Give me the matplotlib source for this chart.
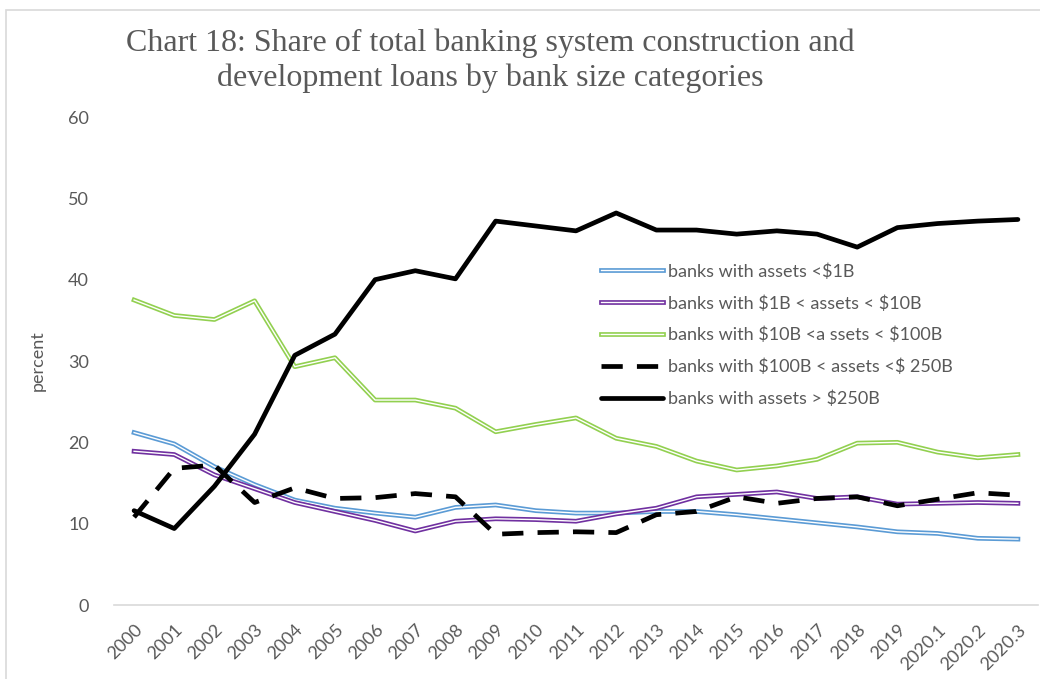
import numpy as np
import matplotlib
matplotlib.use('Agg')
import matplotlib.pyplot as plt
import matplotlib.patheffects as pe
from matplotlib.patches import Rectangle

# 데이터
years = ['2000', '2001', '2002', '2003', '2004', '2005', '2006', '2007', '2008', '2009',
         '2010', '2011', '2012', '2013', '2014', '2015', '2016', '2017', '2018', '2019',
         '2020.1', '2020.2', '2020.3']

under_1b = [21.2, 19.8, 17.0, 14.8, 12.9, 11.9, 11.3, 10.8, 12.0, 12.3,
            11.6, 11.3, 11.3, 11.5, 11.5, 11.1, 10.6, 10.1, 9.6, 9.0,
            8.8, 8.2, 8.1]
b1_10 = [18.9, 18.5, 16.0, 14.3, 12.6, 11.5, 10.4, 9.1, 10.3, 10.6,
         10.5, 10.3, 11.2, 11.9, 13.3, 13.6, 13.9, 13.1, 13.3, 12.4,
         12.5, 12.6, 12.5]
b10_100 = [37.5, 35.6, 35.1, 37.4, 29.3, 30.4, 25.2, 25.2, 24.2, 21.3,
           22.2, 23.0, 20.5, 19.5, 17.7, 16.6, 17.1, 17.9, 19.9, 20.0,
           18.8, 18.1, 18.5]
b100_250 = [10.8, 16.8, 17.2, 12.6, 14.4, 13.1, 13.2, 13.7, 13.3, 8.7,
            8.9, 9.0, 8.9, 11.1, 11.5, 13.3, 12.5, 13.1, 13.3, 12.2,
            13.0, 13.8, 13.5]
over_250b = [11.6, 9.4, 14.6, 21.0, 30.7, 33.3, 40.0, 41.1, 40.1, 47.2,
             46.6, 46.0, 48.2, 46.1, 46.1, 45.6, 46.0, 45.6, 44.0, 46.4,
             46.9, 47.2, 47.4]

labels = [r'banks with assets <\$1B', r'banks with \$1B < assets < \$10B',
          r'banks with \$10B <a ssets < \$100B', r'banks with \$100B < assets <\$ 250B',
          r'banks with assets > \$250B']

grey = '#595959'
x = np.arange(len(years))

fig = plt.figure(figsize=(10.4, 6.79), dpi=100)
fig.patches.append(Rectangle((6 / 1040, -0.01), 1.02, 1 - 10 / 679 + 0.01, transform=fig.transFigure,
                             fill=False, edgecolor='#d9d9d9', linewidth=1.2))
ax = fig.add_axes([114 / 1040, 1 - 605 / 679, 924 / 1040, 488 / 679])

# 이중선 (흰 선 + 색 테두리)
for vals, col, lab in [(under_1b, '#5B9BD5', labels[0]), (b1_10, '#7030A0', labels[1]),
                       (b10_100, '#92D050', labels[2])]:
    ax.plot(x, vals, color='white', linewidth=1.0, label=lab,
            path_effects=[pe.Stroke(linewidth=3.4, foreground=col), pe.Normal()])

ax.plot(x, b100_250, color='black', linewidth=3.4, dashes=(4.5, 3.0), label=labels[3])
ax.plot(x, over_250b, color='black', linewidth=3.4, label=labels[4], solid_capstyle='round')

ax.set_xlim(-0.5, len(years) - 0.5)
ax.set_ylim(0, 60)
ax.set_yticks(range(0, 61, 10))
ax.set_xticks(x)
ax.set_xticklabels(years, rotation=45, ha='right', rotation_mode='anchor')
for s in ['top', 'right', 'left']:
    ax.spines[s].set_visible(False)
ax.spines['bottom'].set_color('#d9d9d9')
ax.spines['bottom'].set_linewidth(1.2)
ax.tick_params(axis='both', length=0, colors=grey, labelsize=13)
ax.tick_params(axis='y', pad=18)
ax.tick_params(axis='x', pad=12)
for t in ax.get_xticklabels() + ax.get_yticklabels():
    t.set_fontfamily('Lato')
ax.set_ylabel('percent', color=grey, fontsize=13, family='Lato', labelpad=16)

fig.text(0.471, 0.910, 'Chart 18: Share of total banking system construction and\n'
         'development loans by bank size categories', ha='center', va='center',
         family='Liberation Serif', fontsize=23, color=grey, linespacing=1.25)

leg = ax.legend(loc='upper left', bbox_to_anchor=(585 / 1040, 1 - 247 / 679),
                bbox_transform=fig.transFigure, frameon=False, handlelength=3.4,
                handletextpad=0.3, labelspacing=0.85, prop={'family': 'Lato', 'size': 13})
for t in leg.get_texts():
    t.set_color(grey)

fig.savefig('out.png', dpi=100)
